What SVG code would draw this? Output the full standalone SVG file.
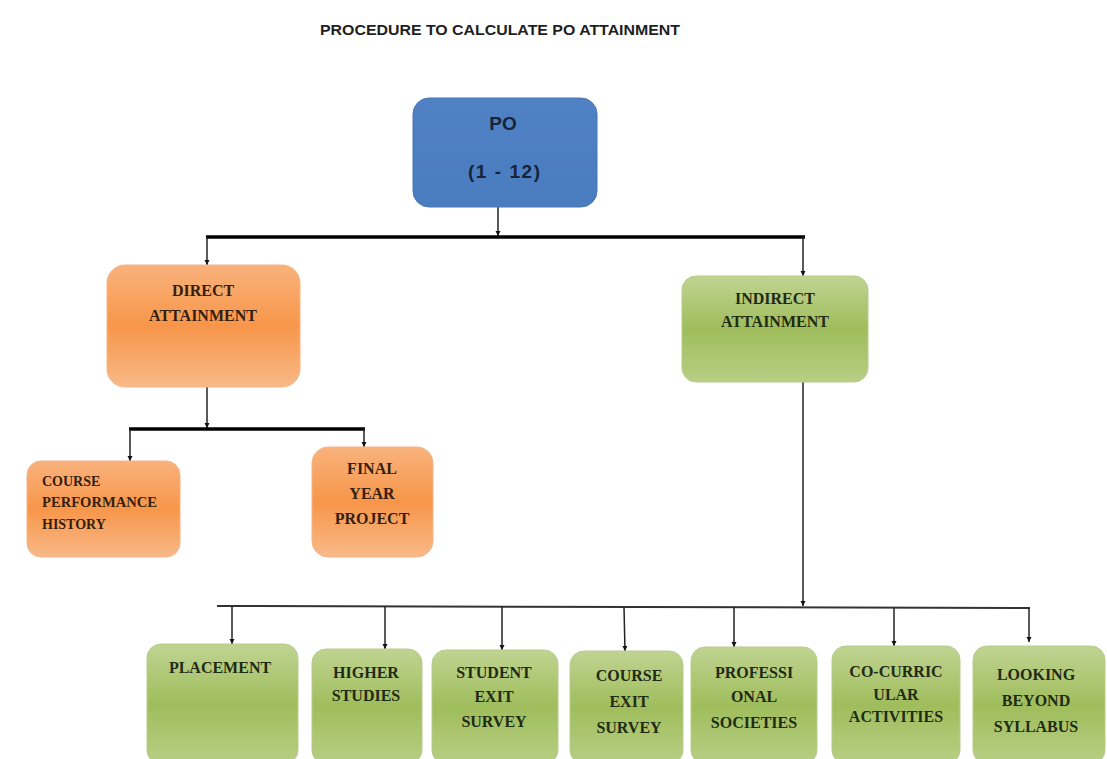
<svg xmlns="http://www.w3.org/2000/svg" width="1107" height="759" viewBox="0 0 1107 759">
<defs>
<linearGradient id="gBlue" x1="0" y1="0" x2="0" y2="1">
<stop offset="0" stop-color="#4f81c4"/><stop offset="1" stop-color="#4a7cc0"/>
</linearGradient>
<linearGradient id="gOrange" x1="0" y1="0" x2="0" y2="1">
<stop offset="0" stop-color="#f9b27c"/><stop offset="0.5" stop-color="#f7964a"/><stop offset="1" stop-color="#f9b988"/>
</linearGradient>
<linearGradient id="gGreen" x1="0" y1="0" x2="0" y2="1">
<stop offset="0" stop-color="#c0d492"/><stop offset="0.5" stop-color="#9fbd5c"/><stop offset="1" stop-color="#b8cf85"/>
</linearGradient>
<marker id="arr" viewBox="0 0 10 10" refX="10" refY="5" markerWidth="5" markerHeight="6" markerUnits="userSpaceOnUse" orient="auto">
<path d="M0,0 L10,5 L0,10 z" fill="#111"/>
</marker>
<style>
.title{font-family:"Liberation Sans",Arial,sans-serif;font-weight:bold;font-size:14px;fill:#1e1e1e}
.po{font-family:"Liberation Sans",Arial,sans-serif;font-weight:bold;font-size:19px;fill:#172438;text-anchor:middle}
.blue{fill:url(#gBlue);stroke:#4a76b0;stroke-width:1}
.orange{fill:url(#gOrange);stroke:#f5b58a;stroke-width:1}
.green{fill:url(#gGreen);stroke:#b8cc8c;stroke-width:1}
.to{font-family:"Liberation Serif","Times New Roman",serif;font-weight:bold;font-size:16px;fill:#35200f;text-anchor:middle}
.tol{font-family:"Liberation Serif","Times New Roman",serif;font-weight:bold;font-size:14px;fill:#35200f;text-anchor:start}
.tg{font-family:"Liberation Serif","Times New Roman",serif;font-weight:bold;font-size:16px;fill:#1f2b14;text-anchor:middle}
.thick{stroke:#000;stroke-width:3.5;fill:none}
.thin{stroke:#222;stroke-width:1.5;fill:none}
.mid{stroke:#333;stroke-width:2;fill:none}
</style>
</defs>
<rect width="1107" height="759" fill="#fff"/>
<text class="title" x="320" y="35" textLength="360" lengthAdjust="spacingAndGlyphs">PROCEDURE TO CALCULATE PO ATTAINMENT</text>

<g id="connectors">
<line class="thin" x1="498" y1="207" x2="498" y2="236" marker-end="url(#arr)"/>
<line class="thick" x1="206" y1="237" x2="805" y2="237"/>
<line class="thin" x1="207" y1="237" x2="207" y2="265" marker-end="url(#arr)"/>
<line class="thin" x1="803" y1="237" x2="803" y2="276" marker-end="url(#arr)"/>
<line class="thin" x1="207" y1="387" x2="207" y2="428" marker-end="url(#arr)"/>
<line class="thick" x1="129" y1="429" x2="365" y2="429"/>
<line class="thin" x1="130" y1="429" x2="130" y2="461" marker-end="url(#arr)"/>
<line class="thin" x1="364" y1="429" x2="364" y2="447" marker-end="url(#arr)"/>
<line class="thin" x1="803" y1="382" x2="803" y2="606" marker-end="url(#arr)"/>
<line class="mid" x1="217" y1="606" x2="1030" y2="608"/>
<line class="thin" x1="232" y1="606" x2="232" y2="644" marker-end="url(#arr)"/>
<line class="thin" x1="385" y1="606" x2="385" y2="649" marker-end="url(#arr)"/>
<line class="thin" x1="502" y1="606" x2="502" y2="650" marker-end="url(#arr)"/>
<line class="thin" x1="624" y1="607" x2="625" y2="651" marker-end="url(#arr)"/>
<line class="thin" x1="734" y1="607" x2="734" y2="647" marker-end="url(#arr)"/>
<line class="thin" x1="894" y1="608" x2="894" y2="646" marker-end="url(#arr)"/>
<line class="thin" x1="1029" y1="608" x2="1029" y2="642" marker-end="url(#arr)"/>
</g>

<g id="po">
<rect class="blue" x="413" y="98" width="184" height="109" rx="16"/>
<text class="po" x="503" y="130">PO</text>
<text class="po" x="504" y="178" textLength="72" lengthAdjust="spacing">(1 - 12)</text>
</g>

<g id="direct">
<rect class="orange" x="107" y="265" width="193" height="122" rx="18"/>
<text class="to" x="203" y="296">DIRECT</text>
<text class="to" x="203" y="321">ATTAINMENT</text>
</g>

<g id="indirect">
<rect class="green" x="682" y="276" width="186" height="106" rx="14"/>
<text class="tg" x="775" y="304" font-size="15">INDIRECT</text>
<text class="tg" x="775" y="327" font-size="15">ATTAINMENT</text>
</g>

<g id="course-performance">
<rect class="orange" x="27" y="461" width="153" height="96" rx="14"/>
<text class="tol" x="42" y="486">COURSE</text>
<text class="tol" x="42" y="507" textLength="115" lengthAdjust="spacingAndGlyphs">PERFORMANCE</text>
<text class="tol" x="42" y="529">HISTORY</text>
</g>

<g id="final-year">
<rect class="orange" x="312" y="447" width="121" height="110" rx="16"/>
<text class="to" x="372" y="474">FINAL</text>
<text class="to" x="372" y="499">YEAR</text>
<text class="to" x="372" y="524">PROJECT</text>
</g>

<g id="placement">
<rect class="green" x="147" y="644" width="151" height="120" rx="14"/>
<text class="tg" x="220" y="673">PLACEMENT</text>
</g>

<g id="higher-studies">
<rect class="green" x="312" y="649" width="110" height="115" rx="14"/>
<text class="tg" x="366" y="678">HIGHER</text>
<text class="tg" x="366" y="701">STUDIES</text>
</g>

<g id="student-exit">
<rect class="green" x="432" y="650" width="126" height="114" rx="14"/>
<text class="tg" x="494" y="678">STUDENT</text>
<text class="tg" x="494" y="702">EXIT</text>
<text class="tg" x="494" y="727">SURVEY</text>
</g>

<g id="course-exit">
<rect class="green" x="570" y="651" width="113" height="113" rx="14"/>
<text class="tg" x="629" y="681">COURSE</text>
<text class="tg" x="629" y="707">EXIT</text>
<text class="tg" x="629" y="733">SURVEY</text>
</g>

<g id="professional">
<rect class="green" x="691" y="647" width="126" height="117" rx="14"/>
<text class="tg" x="754" y="678">PROFESSI</text>
<text class="tg" x="754" y="702">ONAL</text>
<text class="tg" x="754" y="728">SOCIETIES</text>
</g>

<g id="co-curricular">
<rect class="green" x="832" y="646" width="128" height="118" rx="14"/>
<text class="tg" x="896" y="677" font-size="14">CO-CURRIC</text>
<text class="tg" x="896" y="700" font-size="14">ULAR</text>
<text class="tg" x="896" y="722" font-size="14">ACTIVITIES</text>
</g>

<g id="looking-beyond">
<rect class="green" x="973" y="646" width="132" height="118" rx="14"/>
<text class="tg" x="1036" y="680">LOOKING</text>
<text class="tg" x="1036" y="706">BEYOND</text>
<text class="tg" x="1036" y="732">SYLLABUS</text>
</g>
</svg>
